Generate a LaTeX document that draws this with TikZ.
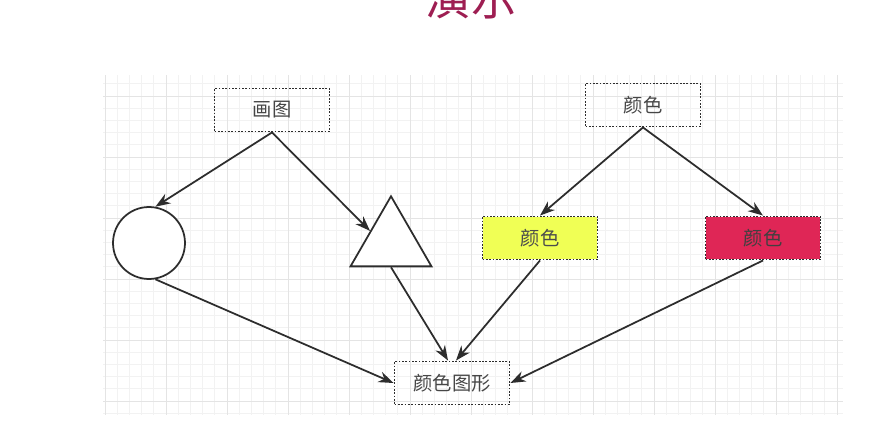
\documentclass[tikz,border=0pt]{standalone}
\usepackage{fontspec}
\newfontfamily\cjk{Noto Sans CJK SC}
\usepackage{xcolor}
\usepackage{tikz}
\usetikzlibrary{arrows.meta,positioning,calc,shapes.geometric}
\definecolor{titlec}{RGB}{158,30,82}
\definecolor{linec}{RGB}{45,45,45}
\definecolor{txtc}{RGB}{70,70,70}
\definecolor{gridminor}{RGB}{242,242,242}
\definecolor{gridmajor}{RGB}{228,228,228}
\definecolor{yellowc}{RGB}{240,255,85}
\definecolor{redc}{RGB}{223,38,86}

\begin{document}
\begin{tikzpicture}[x=0.02cm, y=-0.02cm,
  dotbox/.style={draw=linec, line width=1.1pt, dash pattern=on 1pt off 0.9pt, minimum width=2.3cm, minimum height=0.86cm, inner sep=0pt, font=\cjk\fontsize{11}{13}\selectfont, text=txtc},
  shapeline/.style={draw=linec, line width=1pt, fill=white, inner sep=0pt},
  arr/.style={-{Stealth[length=3mm, width=2.2mm]}, draw=linec, line width=1pt}]
  \useasboundingbox[fill=white] (0,0) rectangle (869,426);
  % grid background
  \begin{scope}
    \clip (103,75) rectangle (843,415);
    \foreach \i in {-1,...,61} \draw[gridminor, line width=0.4pt] (105+12.2*\i,75) -- (105+12.2*\i,415);
    \foreach \j in {-2,...,27} \draw[gridminor, line width=0.4pt] (103,96+12.2*\j) -- (843,96+12.2*\j);
    \foreach \i in {-1,...,12} \draw[gridmajor, line width=0.5pt] (105+61*\i,75) -- (105+61*\i,415);
    \foreach \j in {-1,...,6} \draw[gridmajor, line width=0.5pt] (103,96+61*\j) -- (843,96+61*\j);
  \end{scope}
  % title
  \node[font=\cjk\fontsize{26}{26}\selectfont, text=titlec, anchor=base, inner sep=0pt] (title) at (471,15) {演示};
  % top row
  \node[dotbox] (draw) at (272,110) {画图};
  \node[dotbox] (colour) at (643,105) {颜色};
  % middle row
  \node[shapeline, circle, minimum size=1.44cm] (circ) at (149,243) {};
  \node[shapeline, regular polygon, regular polygon sides=3, minimum size=1.87cm] (tri) at (391,243) {};
  \node[dotbox, fill=yellowc, text=black!70] (yel) at (540,238) {颜色};
  \node[dotbox, fill=redc, text=black!75] (red) at (763,238) {颜色};
  % bottom
  \node[dotbox] (res) at (452,383) {颜色图形};
  % flow
  \draw[arr] (draw.south) -- (circ.80);
  \draw[arr] (draw.south) -- (tri.side 1);
  \draw[arr] (colour.south) -- (yel.north);
  \draw[arr] (colour.south) -- (red.north);
  \draw[arr] (circ.-80) -- (res.west);
  \draw[arr] (tri.side 2) -- (res.100);
  \draw[arr] (yel.south) -- (res.80);
  \draw[arr] (red.south) -- (res.east);
\end{tikzpicture}
\end{document}
